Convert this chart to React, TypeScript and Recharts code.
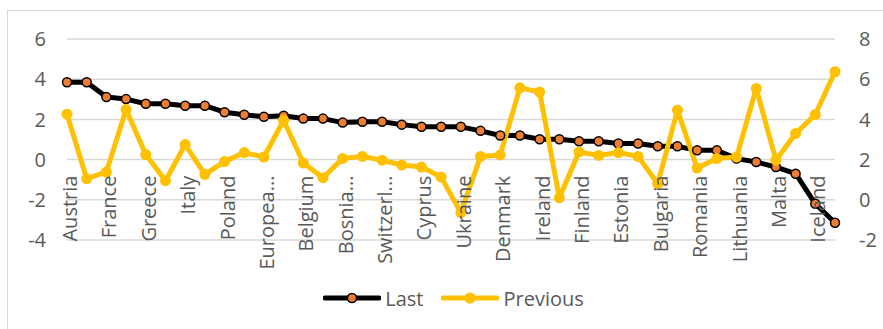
import React from "react";
import { ComposedChart, Line, XAxis, YAxis, CartesianGrid, Legend } from "recharts";

const categories = [
  "Austria", "Germany", "France", "Netherlands", "Greece", "Spain", "Italy", "Portugal",
  "Poland", "Czechia", "Europea...", "Euro Area", "Belgium", "Luxembourg", "Bosnia...", "Serbia",
  "Switzerl...", "Sweden", "Cyprus", "Croatia", "Ukraine", "Slovakia", "Denmark", "Norway",
  "Ireland", "Hungary", "Finland", "Slovenia", "Estonia", "Latvia", "Bulgaria", "Albania",
  "Romania", "Montenegro", "Lithuania", "Macedonia", "Malta", "Russia", "Iceland", "Turkey",
];

const lastValues = [
  3.85, 3.85, 3.11, 3.01, 2.78, 2.78, 2.68, 2.68, 2.36, 2.23,
  2.13, 2.18, 2.04, 2.04, 1.84, 1.88, 1.88, 1.74, 1.63, 1.63,
  1.63, 1.43, 1.2, 1.2, 1.01, 1.01, 0.91, 0.91, 0.8, 0.8,
  0.66, 0.66, 0.46, 0.46, 0.05, -0.12, -0.37, -0.7, -2.2, -3.14,
];

const previousValues = [
  4.26, 1.05, 1.38, 4.49, 2.25, 0.95, 2.75, 1.27, 1.9, 2.35,
  2.13, 3.96, 1.83, 1.1, 2.06, 2.16, 1.97, 1.73, 1.63, 1.13,
  -0.64, 2.16, 2.23, 5.57, 5.36, 0.1, 2.38, 2.21, 2.35, 2.16,
  0.8, 4.46, 1.58, 2.05, 2.13, 5.54, 1.97, 3.3, 4.24, 6.37,
];

const leftTicks = [-4, -2, 0, 2, 4, 6];
const rightTicks = [-2, 0, 2, 4, 6, 8];

const data = categories.map((name, i) => ({
  name,
  Last: lastValues[i],
  Previous: previousValues[i],
}));

const W = 883;
const H = 329;
const MARGIN = { top: 39, right: 0, bottom: 16, left: 0 };
const X_AXIS_H = 43;
const LEGEND_H = 30;
const PLOT_BOTTOM = H - MARGIN.bottom - X_AXIS_H - LEGEND_H;
const PLOT_H = PLOT_BOTTOM - MARGIN.top;
const LEFT_MIN = leftTicks[0];
const LEFT_MAX = leftTicks[leftTicks.length - 1];
const ZERO_Y = MARGIN.top + (PLOT_H * (LEFT_MAX - 0)) / (LEFT_MAX - LEFT_MIN);

const FONT = "'Open Sans', sans-serif";
const TEXT_COLOR = "#595959";

const CategoryTick = (props: any) => {
  const { x, payload } = props;
  const tx = x + 10;
  const ty = ZERO_Y + 16;
  return (
    <text
      x={tx}
      y={ty}
      transform={`rotate(-90, ${tx}, ${ty})`}
      textAnchor="end"
      fill={TEXT_COLOR}
      fontFamily={FONT}
      fontSize={20}
    >
      {payload.value}
    </text>
  );
};

const LegendContent = () => (
  <div
    style={{
      display: "flex",
      justifyContent: "center",
      alignItems: "center",
      height: LEGEND_H,
      fontFamily: FONT,
      fontSize: 20,
      color: TEXT_COLOR,
      paddingLeft: 24,
    }}
  >
    <svg width={58} height={16} style={{ marginRight: 4 }}>
      <line x1={2} y1={8} x2={56} y2={8} stroke="#000" strokeWidth={5} strokeLinecap="round" />
      <circle cx={29} cy={8} r={4.5} fill="#ED7D31" stroke="#000" strokeWidth={1.5} />
    </svg>
    <span style={{ marginRight: 18 }}>Last</span>
    <svg width={58} height={16} style={{ marginRight: 4 }}>
      <line x1={2} y1={8} x2={56} y2={8} stroke="#FFC000" strokeWidth={5} strokeLinecap="round" />
      <circle cx={29} cy={8} r={5.5} fill="#FFC000" />
    </svg>
    <span>Previous</span>
  </div>
);

export default function App() {
  return (
    <div style={{ position: "absolute", left: 0, top: 0, width: W, height: H, overflow: "hidden", background: "#fff" }}>
      <div
        style={{
          position: "absolute",
          left: 7,
          top: 10,
          width: 900,
          height: 400,
          border: "1px solid #d9d9d9",
        }}
      />
      <ComposedChart width={W} height={H} data={data} margin={MARGIN}>
        <CartesianGrid yAxisId="left" vertical={false} stroke="#d9d9d9" strokeWidth={1.5} />
        <XAxis
          dataKey="name"
          height={X_AXIS_H}
          axisLine={false}
          tickLine={false}
          interval={1}
          tick={<CategoryTick />}
        />
        <YAxis
          yAxisId="left"
          orientation="left"
          width={67}
          domain={[LEFT_MIN, LEFT_MAX]}
          ticks={leftTicks}
          axisLine={false}
          tickLine={false}
          tickSize={0}
          tickMargin={21}
          tick={{ fill: TEXT_COLOR, fontFamily: FONT, fontSize: 20 }}
          allowDataOverflow
        />
        <YAxis
          yAxisId="right"
          orientation="right"
          width={48}
          domain={[rightTicks[0], rightTicks[rightTicks.length - 1]]}
          ticks={rightTicks}
          axisLine={false}
          tickLine={false}
          tickSize={0}
          tickMargin={24}
          tick={{ fill: TEXT_COLOR, fontFamily: FONT, fontSize: 20, textAnchor: "start" }}
          allowDataOverflow
        />
        <Legend verticalAlign="bottom" height={LEGEND_H} content={<LegendContent />} />
        <Line
          yAxisId="left"
          dataKey="Last"
          type="linear"
          stroke="#000"
          strokeWidth={5}
          strokeLinejoin="round"
          dot={{ r: 4.5, fill: "#ED7D31", stroke: "#000", strokeWidth: 1.5 }}
          activeDot={false}
          isAnimationActive={false}
        />
        <Line
          yAxisId="right"
          dataKey="Previous"
          type="linear"
          stroke="#FFC000"
          strokeWidth={5}
          strokeLinejoin="round"
          dot={{ r: 5.5, fill: "#FFC000", stroke: "#FFC000", strokeWidth: 0 }}
          activeDot={false}
          isAnimationActive={false}
        />
      </ComposedChart>
    </div>
  );
}
